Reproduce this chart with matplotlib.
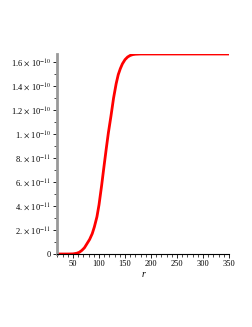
import matplotlib
matplotlib.use("Agg")
import matplotlib.pyplot as plt
from matplotlib.ticker import FixedLocator, MultipleLocator

plt.rcParams["font.family"] = ["Liberation Serif", "DejaVu Serif"]
plt.rcParams["mathtext.fontset"] = "stix"

# values
r = [20, 40, 50, 57, 62, 67, 72, 76, 82, 87, 91, 96, 100, 105, 109, 114, 118, 123, 128, 133,
     137, 141, 145, 150, 155, 160, 165, 170, 180, 200, 250, 300, 350]
y = [0, 0, 0.01e-11, 0.06e-11, 0.14e-11, 0.3e-11, 0.52e-11, 0.8e-11, 1.22e-11, 1.7e-11, 2.25e-11,
     3.1e-11, 4.1e-11, 5.7e-11, 7.1e-11, 8.8e-11, 10.1e-11, 11.5e-11, 13.0e-11, 14.2e-11,
     14.95e-11, 15.45e-11, 15.85e-11, 16.2e-11, 16.42e-11, 16.55e-11, 16.62e-11, 16.65e-11,
     16.67e-11, 16.67e-11, 16.67e-11, 16.67e-11, 16.67e-11]

yticks = [0, 2e-11, 4e-11, 6e-11, 8e-11, 1e-10, 1.2e-10, 1.4e-10, 1.6e-10]
ylabels = ["0", r"2. $\times$ 10$^{-11}$", r"4. $\times$ 10$^{-11}$", r"6. $\times$ 10$^{-11}$",
           r"8. $\times$ 10$^{-11}$", r"1. $\times$ 10$^{-10}$", r"1.2 $\times$ 10$^{-10}$",
           r"1.4 $\times$ 10$^{-10}$", r"1.6 $\times$ 10$^{-10}$"]
xticks = [50, 100, 150, 200, 250, 300, 350]

fig = plt.figure(figsize=(2.53, 3.27), dpi=100)
ax = fig.add_axes([57 / 253, 73 / 327, 172 / 253, 200 / 327])

ax.plot(r, y, color="#ff0000", lw=2.0, solid_joinstyle="round")

ax.set_xlim(19.2, 350)
ax.set_ylim(0, 1.667e-10)
ax.set_xticks(xticks)
ax.set_xticklabels([str(t) for t in xticks])
ax.yaxis.set_major_locator(FixedLocator(yticks))
ax.set_yticklabels(ylabels)
ax.xaxis.set_minor_locator(MultipleLocator(10))
ax.yaxis.set_minor_locator(MultipleLocator(1e-11))

for s in ["top", "right"]:
    ax.spines[s].set_visible(False)
ax.spines["left"].set_color("#999999")
ax.spines["left"].set_linewidth(2)
ax.spines["bottom"].set_color("#000000")
ax.spines["bottom"].set_linewidth(0.8)

ax.tick_params(axis="both", which="major", length=3, width=0.6, labelsize=6, pad=1.5)
ax.tick_params(axis="both", which="minor", length=2, width=0.5)
ax.set_xlabel("r", fontsize=7, style="italic", labelpad=1)

fig.savefig("out.png", dpi=100)
